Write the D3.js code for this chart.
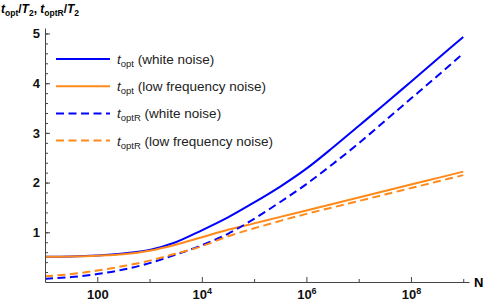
<!DOCTYPE html>
<html>
<head>
<meta charset="utf-8">
<script src="https://cdn.jsdelivr.net/npm/d3@7"></script>
<style>
  body { margin: 0; background: #fff; }
  svg { font-family: "Liberation Sans", Arial, sans-serif; }
</style>
</head>
<body>
<div id="chart"></div>
<script>
// log10(N) sample points
const logN = [1, 1.5, 2, 2.5, 3, 3.5, 4, 4.5, 5, 5.5, 6, 6.5, 7, 7.5, 8, 8.5, 9];

const toptWhite = [0.51, 0.515, 0.535, 0.575, 0.645, 0.80, 1.04, 1.30, 1.60, 1.92, 2.28, 2.70, 3.14, 3.58, 4.03, 4.48, 4.93];
const toptLow   = [0.51, 0.515, 0.53, 0.56, 0.63, 0.75, 0.90, 1.05, 1.18, 1.31, 1.44, 1.57, 1.70, 1.83, 1.96, 2.09, 2.22];
const toptRWhite = [0.065, 0.10, 0.16, 0.25, 0.38, 0.55, 0.74, 0.97, 1.27, 1.61, 1.97, 2.37, 2.79, 3.24, 3.69, 4.14, 4.60];
const toptRLow   = [0.115, 0.16, 0.23, 0.32, 0.43, 0.57, 0.72, 0.92, 1.08, 1.23, 1.37, 1.50, 1.63, 1.76, 1.89, 2.02, 2.15];

const yMajor = [1, 2, 3, 4, 5];
const yMinor = d3.range(0.2, 5.1, 0.2);
const xMajor = [1e2, 1e4, 1e6, 1e8];
const xMinor = [1e1, 1e3, 1e5, 1e7, 1e9];

const series = [
  { name: "opt", note: " (white noise)", values: toptWhite, color: "#0000ff", dash: null },
  { name: "opt", note: " (low frequency noise)", values: toptLow, color: "#ff8a1a", dash: null },
  { name: "optR", note: " (white noise)", values: toptRWhite, color: "#0000ff", dash: "8,4.5" },
  { name: "optR", note: " (low frequency noise)", values: toptRLow, color: "#ff8a1a", dash: "8,4.5" }
];

const width = 491, height = 304;
const axisColor = "#444";

const svg = d3.select("#chart").append("svg")
  .attr("width", width)
  .attr("height", height);

const x = d3.scaleLog().domain([10, Math.pow(10, 9.11)]).range([45, 469]);
const y = d3.scaleLinear().domain([0, 5.11]).range([282, 28]);

// curves
const line = d3.line()
  .x((d, i) => x(Math.pow(10, logN[i])))
  .y(d => y(d))
  .curve(d3.curveMonotoneX);

series.forEach(s => {
  svg.append("path")
    .datum(s.values)
    .attr("d", line)
    .attr("fill", "none")
    .attr("stroke", s.color)
    .attr("stroke-width", 2)
    .attr("stroke-dasharray", s.dash);
});

// y axis
const yMinorG = svg.append("g")
  .attr("transform", "translate(45,0)")
  .call(d3.axisLeft(y).tickValues(yMinor).tickSize(-3).tickFormat(""));
yMinorG.select(".domain").remove();

const yG = svg.append("g")
  .attr("transform", "translate(45,0)")
  .call(d3.axisLeft(y).tickValues(yMajor).tickSize(-5).tickSizeOuter(0).tickPadding(5).tickFormat(d3.format("d")));

// x axis
const xMinorG = svg.append("g")
  .attr("transform", "translate(0,282)")
  .call(d3.axisBottom(x).tickValues(xMinor).tickSize(-3).tickFormat(""));
xMinorG.select(".domain").remove();

const xG = svg.append("g")
  .attr("transform", "translate(0,282)")
  .call(d3.axisBottom(x).tickValues(xMajor).tickSize(-5).tickSizeOuter(0).tickPadding(8).tickFormat(""));

xG.selectAll(".tick text").each(function(d) {
  const t = d3.select(this);
  const p = Math.round(Math.log10(d));
  if (p === 2) {
    t.text("100");
  } else {
    t.append("tspan").text("10");
    t.append("tspan").attr("font-size", 9).attr("dy", "-0.55em").text(p);
  }
});

svg.selectAll(".domain, .tick line").attr("stroke", axisColor);
svg.selectAll(".tick text")
  .attr("fill", "#111")
  .attr("font-size", 13)
  .attr("font-weight", "bold")
  .attr("font-family", "'Liberation Sans', Arial, sans-serif");

// axis labels
svg.append("text")
  .attr("x", 474).attr("y", 287)
  .attr("font-size", 13).attr("font-weight", "bold")
  .text("N");

const title = svg.append("text")
  .attr("x", 1).attr("y", 13)
  .attr("font-size", 12).attr("font-weight", "bold");
title.append("tspan").attr("font-style", "italic").text("t");
title.append("tspan").attr("font-size", 8.5).attr("dy", 3).text("opt");
title.append("tspan").attr("dy", -3).text("/");
title.append("tspan").attr("font-style", "italic").text("T");
title.append("tspan").attr("font-size", 8.5).attr("dy", 3).text("2");
title.append("tspan").attr("dy", -3).text(", ");
title.append("tspan").attr("font-style", "italic").text("t");
title.append("tspan").attr("font-size", 8.5).attr("dy", 3).text("optR");
title.append("tspan").attr("dy", -3).text("/");
title.append("tspan").attr("font-style", "italic").text("T");
title.append("tspan").attr("font-size", 8.5).attr("dy", 3).text("2");

// legend
const legend = svg.append("g").attr("transform", "translate(56,59)");
series.forEach((s, i) => {
  const row = legend.append("g").attr("transform", "translate(0," + (i * 27.2) + ")");
  row.append("line")
    .attr("x1", 0).attr("x2", 54)
    .attr("stroke", s.color)
    .attr("stroke-width", 2)
    .attr("stroke-dasharray", s.dash);
  const t = row.append("text")
    .attr("x", 61).attr("y", 5)
    .attr("font-size", 13.5).attr("fill", "#222");
  t.append("tspan").attr("font-style", "italic").text("t");
  t.append("tspan").attr("font-size", 9.5).attr("dy", 3).text(s.name);
  t.append("tspan").attr("dy", -3).text(s.note);
});
</script>
</body>
</html>
